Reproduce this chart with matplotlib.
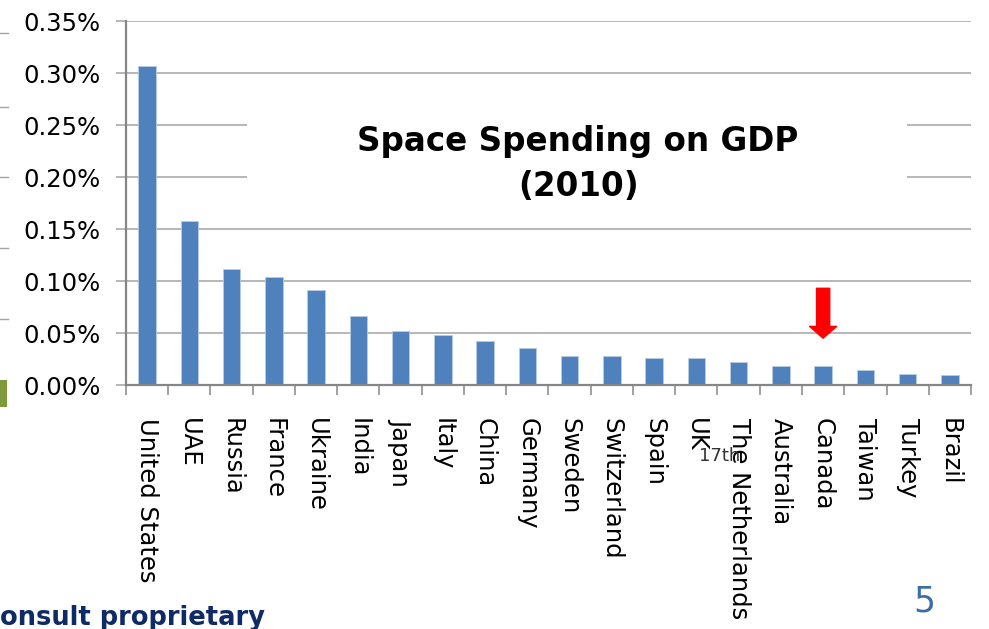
import matplotlib
matplotlib.use("Agg")
import matplotlib.pyplot as plt
from matplotlib.patches import Rectangle

# space budget as share of GDP, 2010 (percent)
countries = ["United States", "UAE", "Russia", "France", "Ukraine", "India",
             "Japan", "Italy", "China", "Germany", "Sweden", "Switzerland",
             "Spain", "UK", "The Netherlands", "Australia", "Canada",
             "Taiwan", "Turkey", "Brazil"]
share_gdp = [0.307, 0.158, 0.112, 0.104, 0.0915, 0.066, 0.052, 0.048, 0.042,
             0.036, 0.028, 0.028, 0.026, 0.026, 0.022, 0.0185, 0.0185,
             0.014, 0.011, 0.0093]
yticks = [0.00, 0.05, 0.10, 0.15, 0.20, 0.25, 0.30, 0.35]
highlight = "Canada"

bar_blue = "#4f81bd"
grid_gray = "#a3a3a3"
axis_gray = "#868686"

fig = plt.figure(figsize=(9.89, 6.29), dpi=100)
ax = fig.add_axes([0.1274, 0.3879, 0.8544, 0.5787])

x = list(range(len(countries)))
ax.bar(x, share_gdp, width=0.41, color=bar_blue, edgecolor="#b8cce4",
       linewidth=0.6, zorder=3)

ax.set_xlim(-0.5, len(countries) - 0.5)
ax.set_ylim(0, 0.35)
ax.set_yticks(yticks)
ax.set_yticklabels(["%.2f%%" % v for v in yticks], fontsize=17.5)
ax.yaxis.grid(True, color=grid_gray, linewidth=1.1, zorder=0)
ax.set_axisbelow(True)
ax.tick_params(axis="y", length=7.5, width=1.1, color=grid_gray, pad=10.5)

# tick marks between categories, labels centred under bars
ax.set_xticks([i - 0.5 for i in range(len(countries) + 1)])
ax.set_xticklabels([])
ax.tick_params(axis="x", which="major", length=7.5, width=1.1,
               color=axis_gray)
ax.set_xticks(x, minor=True)
ax.set_xticklabels(countries, minor=True, rotation=-90, fontsize=17.5,
                   va="top", ha="center")
ax.tick_params(axis="x", which="minor", length=0, pad=24)

for side in ["top", "right"]:
    ax.spines[side].set_visible(False)
ax.spines["left"].set_color(axis_gray)
ax.spines["left"].set_linewidth(1.6)
ax.spines["bottom"].set_color(axis_gray)
ax.spines["bottom"].set_linewidth(1.6)
ax.spines["bottom"].set_zorder(4)

# white panel behind the chart title
ax.add_patch(Rectangle((0.143, 0.49), 0.781, 0.31, transform=ax.transAxes,
                       facecolor="white", edgecolor="none", zorder=1))
ax.text(0.535, 0.67, "Space Spending on GDP", transform=ax.transAxes,
        ha="center", va="center", fontsize=23.5, fontweight="bold", zorder=5)
ax.text(0.535, 0.545, "(2010)", transform=ax.transAxes,
        ha="center", va="center", fontsize=23.5, fontweight="bold", zorder=5)

# red arrow pointing down at Canada
ci = countries.index(highlight)
ax.annotate("", xy=(ci, share_gdp[ci] + 0.0265),
            xytext=(ci, share_gdp[ci] + 0.0745),
            arrowprops=dict(arrowstyle="simple,head_width=1.95,head_length=0.85,tail_width=0.95",
                            color="#ff0000", shrinkA=0, shrinkB=0),
            zorder=6)

# slide furniture
fig.text(699 / 989, 1 - 456 / 629, "17th", fontsize=13, color="#333333",
         ha="left", va="center")
fig.text(924 / 989, 1 - 601 / 629, "5", fontsize=25, color="#3d6da6",
         ha="center", va="center")
fig.text(0.0, 1 - 625 / 629, "onsult proprietary", fontsize=18.5,
         fontweight="bold", color="#0f2b66", ha="left", va="baseline")

for yy in [33, 107, 177, 248, 319]:
    fig.add_artist(plt.Line2D([0, 8 / 989], [1 - yy / 629, 1 - yy / 629],
                              color=grid_gray, linewidth=1.0))
fig.add_artist(Rectangle((0, 1 - 407 / 629), 7 / 989, 27 / 629,
                         facecolor="#7e9a3c", edgecolor="none"))

fig.savefig("out.png", dpi=100)
